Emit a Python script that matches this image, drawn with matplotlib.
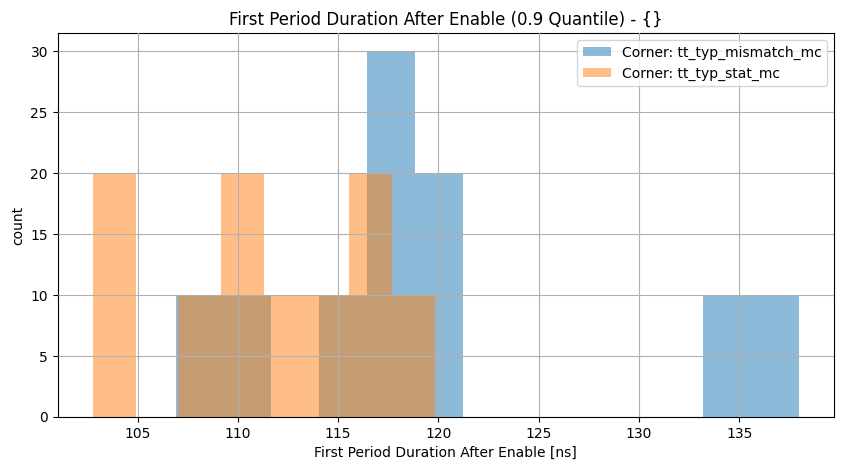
import numpy as np
import matplotlib
matplotlib.use("Agg")
import matplotlib.pyplot as plt

# Bin edges and counts
mismatch_edges = [106.90, 109.29, 111.68, 114.07, 116.46, 118.85, 121.24,
                  123.63, 126.02, 128.41, 130.80, 133.19, 135.58, 137.97]
mismatch_counts = [10, 10, 0, 10, 30, 20, 0, 0, 0, 0, 0, 10, 10]

stat_edges = [102.78, 104.91, 107.04, 109.17, 111.31, 113.44, 115.57, 117.70, 119.83]
stat_counts = [20, 0, 10, 20, 10, 10, 20, 10]

labels = ["Corner: tt_typ_mismatch_mc", "Corner: tt_typ_stat_mc"]

fig = plt.figure(figsize=(8.41, 4.70), dpi=100)
ax = fig.add_axes([0.0686, 0.1128, 0.9231, 0.8172])

for edges, counts, lab in [(mismatch_edges, mismatch_counts, labels[0]),
                           (stat_edges, stat_counts, labels[1])]:
    e = np.array(edges)
    centers = (e[:-1] + e[1:]) / 2
    ax.hist(centers, bins=e, weights=counts, alpha=0.5, label=lab)

ax.grid(True)
ax.set_axisbelow(False)
ax.set_title("First Period Duration After Enable (0.9 Quantile) - {}")
ax.set_xlabel("First Period Duration After Enable [ns]")
ax.set_ylabel("count")
ax.legend(loc="upper right")

fig.savefig("out.png", dpi=100)
